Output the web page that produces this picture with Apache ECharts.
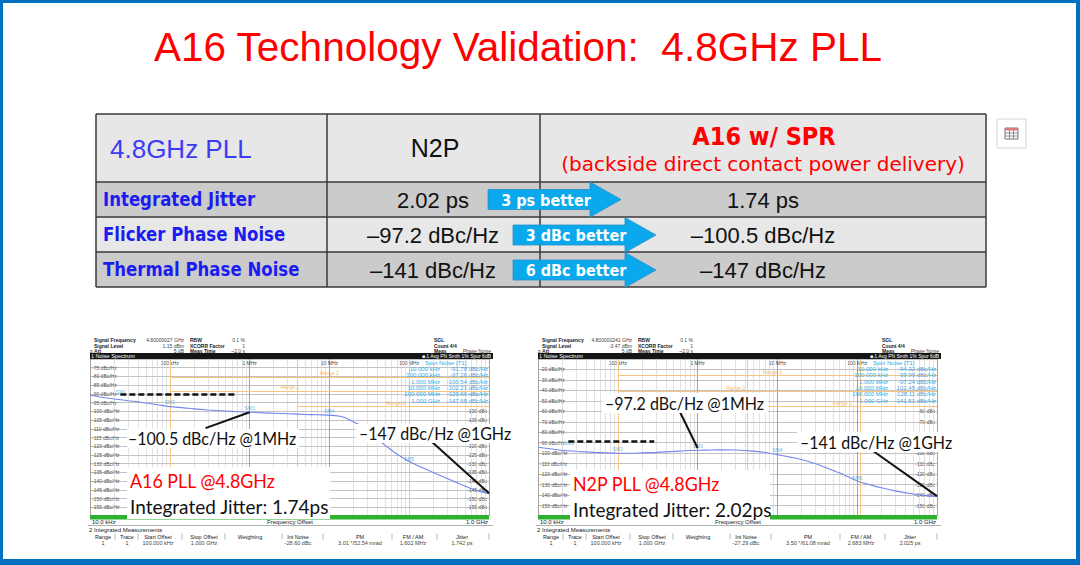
<!DOCTYPE html>
<html>
<head>
<meta charset="utf-8">
<script src="https://cdn.jsdelivr.net/npm/echarts@6/dist/echarts.min.js"></script>
<style>
html, body { margin: 0; padding: 0; background: #fff; }
#main { width: 1080px; height: 565px; }
</style>
</head>
<body>
<div id="main"></div>
<script>
// ---- data ----
var tableRows = ['Integrated Jitter', 'Flicker Phase Noise', 'Thermal Phase Noise'];
var n2pValues = ['2.02 ps', '\u201397.2 dBc/Hz', '\u2013141 dBc/Hz'];
var a16Values = ['1.74 ps', '\u2013100.5 dBc/Hz', '\u2013147 dBc/Hz'];
var gains = ['3 ps better', '3 dBc better', '6 dBc better'];

// phase noise traces, offset frequency (Hz) -> dBc/Hz
var freqA16 = [1e4, 1.5e4, 2e4, 3e4, 4e4, 5e4, 7e4, 1e5, 1.5e5, 2e5, 3e5, 5e5, 7e5, 1e6, 1.5e6, 2e6, 3e6, 5e6, 7e6,
    1e7, 1.3e7, 1.6e7, 2e7, 2.5e7, 3e7, 4e7, 5e7, 7e7, 1e8, 1.5e8, 2e8, 3e8, 4e8, 5e8, 7e8, 1e9];
var pnA16 = [-90.8, -92.2, -92.9, -93.9, -94.6, -95.2, -96.2, -97.3, -98.0, -98.6, -99.2, -99.8, -100.2, -100.5, -100.9, -101.1, -101.4, -101.8, -102.0,
    -102.2, -102.7, -103.8, -106.0, -108.5, -111.0, -116.0, -119.5, -124.5, -128.7, -132.5, -135.0, -138.5, -141.0, -142.8, -145.3, -147.2];
var freqN2P = [1e4, 1.5e4, 2e4, 3e4, 5e4, 7e4, 1e5, 1.5e5, 2e5, 3e5, 5e5, 7e5, 1e6, 1.5e6, 2e6, 3e6, 5e6, 7e6,
    1e7, 1.5e7, 2e7, 3e7, 5e7, 7e7, 1e8, 1.5e8, 2e8, 3e8, 5e8, 7e8, 1e9];
var pnN2P = [-94.3, -96.0, -97.2, -98.2, -99.2, -99.7, -100.0, -100.0, -99.7, -99.2, -98.3, -97.6, -97.2, -96.9, -96.8, -97.0, -98.0, -99.3,
    -101.4, -104.0, -106.0, -110.0, -116.5, -121.0, -126.5, -130.5, -133.0, -136.0, -139.0, -140.3, -141.3];

// spot noise markers
var spotFreq = [1e4, 1e5, 1e6, 1e7, 1e8, 1e9];
var spotFreqText = ['10.000 kHz', '100.000 kHz', '1.000 MHz', '10.000 MHz', '100.000 MHz', '1.000 GHz'];
var spotA16 = [-91.78, -97.26, -100.54, -102.21, -129.66, -147.68];
var spotN2P = [-94.32, -99.99, -97.24, -101.45, -128.11, -141.51];

// analyzer annotations (data coords)
var dashA16 = [[2.4e4, -90], [6.9e5, -90]];
var dashN2P = [[2.4e4, -89], [2.86e5, -89]];
var pointerA16 = [[[2.8e5, -109.6], [1e6, -100.5]], [[1.7e8, -115.3], [1e9, -147]]];
var pointerN2P = [[[5.7e5, -57], [1e6, -95]], [[1.4e8, -95], [1e9, -141]]];
var rangeEdgesA16 = [1e5, 4e6, 1e8];
var rangeEdgesN2P = [1e5, 4.2e6, 1.1e8];
// name, from, to, level, label freq
var rangesA16 = [['Range 1', 1e5, 1e9, -80.3, 1e7], ['Range 2', 1e5, 1e9, -88.3, 3.2e6], ['Range 3', 4e6, 1e9, -97, 6.8e7]];
var rangesN2P = [['Range 1', 1e5, 1e9, -25.3, 8.7e6], ['Range 2', 1e5, 1e9, -40.6, 3e6], ['Range 3', 4.2e6, 1e9, -55, 6.5e7]];

var xTickText = ['', '100 kHz', '1 MHz', '10 MHz', '100 MHz', ''];
var headerA16 = ['4.80000027 GHz', '1.15 dBm', '5 dB', '0.1 %', '1', '~2.0 s'];
var headerN2P = ['4.800000241 GHz', '-3.47 dBm', '5 dB', '0.1 %', '1', '~2.0 s'];
var intCols = ['Range', 'Trace', 'Start Offset', 'Stop Offset', 'Weighting', 'Int Noise', 'PM', 'FM / AM', 'Jitter'];
var intA16 = ['1', '1', '100.000 kHz', '1.000 GHz', '', '-28.60 dBc', '3.01 \u00b0/52.54 mrad', '1.602 MHz', '1.742 ps'];
var intN2P = ['1', '1', '100.000 kHz', '1.000 GHz', '', '-27.29 dBc', '3.50 \u00b0/61.08 mrad', '2.683 MHz', '2.025 ps'];

// ---- drawing ----
var ARIAL = '"Liberation Sans", Arial, sans-serif';
var TAHOMA = '"DejaVu Sans Condensed", "DejaVu Sans", sans-serif';
var VERDANA = '"DejaVu Sans", sans-serif';
var CALIBRI = 'Lato, "Open Sans", sans-serif';

var g = [];
function txt(x, y, s, size, family, weight, fill, align, z, sx) {
    g.push({type: 'text', x: x, y: y, z: z || 10, silent: true, scaleX: sx || 1,
        style: {text: s, fontSize: size, fontFamily: family, fontWeight: weight || 'normal',
            fill: fill, textAlign: align || 'left', textVerticalAlign: 'middle'}});
}
function box(x, y, w, h, fill, stroke, lw, z) {
    g.push({type: 'rect', z: z || 1, silent: true, shape: {x: x, y: y, width: w, height: h},
        style: {fill: fill || 'none', stroke: stroke || null, lineWidth: lw || 0}});
}
function seg(x1, y1, x2, y2, stroke, lw, z) {
    g.push({type: 'line', z: z || 2, silent: true, shape: {x1: x1, y1: y1, x2: x2, y2: y2},
        style: {stroke: stroke, lineWidth: lw}});
}

// slide frame
box(0, 0, 1080, 3, '#0070c0');
box(0, 0, 3, 565, '#0070c0');
box(1076, 0, 4, 565, '#0070c0');
box(0, 559, 1080, 6, '#0070c0');

// title
txt(518, 47, 'A16 Technology Validation:  4.8GHz PLL', 40.5, ARIAL, 'normal', '#ff0000', 'center');

// table
var rowY = [182, 217, 252];
var rowFill = ['#cbcbcb', '#e7e7e7', '#cbcbcb'];
box(96, 114, 890, 68, '#e7e7e7');
rowY.forEach(function (y, i) { box(96, y, 890, 35, rowFill[i]); });
[114, 182, 217, 252, 287].forEach(function (y) { seg(96, y, 986, y, '#3a3a3a', 1.5, 3); });
[96, 327, 540, 986].forEach(function (x) { seg(x, 114, x, 287, '#3a3a3a', 1.5, 3); });
txt(110, 149, '4.8GHz PLL', 26, ARIAL, 'normal', '#3c3cf5', 'left');
txt(435, 148, 'N2P', 25, ARIAL, 'normal', '#111', 'center');
txt(764, 136, 'A16 w/ SPR', 25, TAHOMA, 'bold', '#ff0000', 'center');
txt(763, 164, '(backside direct contact power delivery)', 20, VERDANA, 'normal', '#ff0000', 'center');
tableRows.forEach(function (s, i) {
    var cy = rowY[i] + 17.5;
    txt(103, cy, s, 19, TAHOMA, 'bold', '#1c1cf0', 'left', 10, 0.97);
    txt(433, cy + 0.5, n2pValues[i], 22, ARIAL, 'normal', '#111', 'center');
    txt(763, cy + 0.5, a16Values[i], 22, ARIAL, 'normal', '#111', 'center');
});
// "better" arrows
var arrows = [{x0: 488, xb: 590, tip: 621, cy: 199.5, text: 546}, {x0: 513, xb: 625, tip: 656, cy: 235, text: 576}, {x0: 513, xb: 625, tip: 656, cy: 270, text: 576}];
arrows.forEach(function (a, i) {
    g.push({type: 'polygon', z: 5, silent: true,
        shape: {points: [[a.x0, a.cy - 10], [a.xb, a.cy - 10], [a.xb, a.cy - 17.5], [a.tip, a.cy], [a.xb, a.cy + 17.5], [a.xb, a.cy + 10], [a.x0, a.cy + 10]]},
        style: {fill: '#0aa8ec', stroke: '#2a8fc8', lineWidth: 0.8}});
    txt(a.text, a.cy + 0.5, gains[i], 16, TAHOMA, 'bold', '#fff', 'center', 6);
});
// small table icon
box(997, 119, 29, 29, '#fff', '#d6d6d6', 1);
box(1005, 128, 13, 11, 'none', '#777', 1, 2);
box(1005, 128, 13, 2.5, '#e07a7a', null, 0, 2);
seg(1005, 133, 1018, 133, '#777', 0.8);
seg(1005, 136, 1018, 136, '#777', 0.8);
seg(1009.5, 130, 1009.5, 139, '#777', 0.8);
seg(1013.5, 130, 1013.5, 139, '#777', 0.8);

// ---- phase noise plots ----
var plots = [
    {left: 90, freq: freqA16, pn: pnA16, spot: spotA16, head: headerA16, integ: intA16, dash: dashA16, pointer: pointerA16,
        edges: rangeEdgesA16, ranges: rangesA16, yMin: -160, yMax: -70, step: 5, rightMax: -100, rightHide: [-110, -115]},
    {left: 538, freq: freqN2P, pn: pnN2P, spot: spotN2P, head: headerN2P, integ: intN2P, dash: dashN2P, pointer: pointerN2P,
        edges: rangeEdgesN2P, ranges: rangesN2P, yMin: -160, yMax: -10, step: 10, rightMax: -60, rightHide: [-80, -90]}
];
var PW = 399, PTOP = 359, PH = 157;
var minorFreqs = [];
for (var d = 1e4; d < 1e9; d *= 10) {
    for (var m = 2; m <= 9; m++) minorFreqs.push({xAxis: m * d});
}

var grids = [], xAxes = [], yAxes = [], series = [];
plots.forEach(function (p, i) {
    var L = p.left;
    grids.push({left: L, top: PTOP, width: PW, height: PH, show: false});
    xAxes.push({type: 'log', gridIndex: i, min: 1e4, max: 1e9, logBase: 10, position: 'top',
        axisLine: {show: false}, axisTick: {show: false},
        axisLabel: {inside: true, fontSize: 5, color: '#444', margin: 1, fontFamily: ARIAL,
            formatter: function (v) { return xTickText[Math.round(Math.log10(v)) - 4] || ''; }},
        splitLine: {show: true, lineStyle: {color: '#8c8c8c', width: 0.8}}});
    yAxes.push({type: 'value', gridIndex: i, min: p.yMin, max: p.yMax, interval: p.step, position: 'left',
        axisLine: {show: false}, axisTick: {show: false},
        axisLabel: {inside: true, fontSize: 5, color: '#555', margin: 2, fontFamily: ARIAL,
            formatter: function (v) { return (v > p.yMin && v < p.yMax) ? v + ' dBc/Hz' : ''; }},
        splitLine: {lineStyle: {color: '#b4b4b4', width: 0.8}}});
    yAxes.push({type: 'value', gridIndex: i, min: p.yMin, max: p.yMax, interval: p.step, position: 'right',
        axisLine: {show: false}, axisTick: {show: false},
        axisLabel: {inside: true, fontSize: 5, color: '#555', margin: 2, fontFamily: ARIAL,
            formatter: function (v) {
                return (v > p.yMin && v <= p.rightMax && p.rightHide.indexOf(v) < 0) ? v + ' dBc' : '';
            }},
        splitLine: {show: false}});

    var pts = p.freq.map(function (f, k) { return [f, p.pn[k]]; });
    var xi = i, yi = 2 * i;
    // minor log grid
    series.push({type: 'line', xAxisIndex: xi, yAxisIndex: yi, data: pts, silent: true, z: 1,
        showSymbol: false, lineStyle: {opacity: 0},
        markLine: {silent: true, symbol: ['none', 'none'], label: {show: false}, animation: false,
            lineStyle: {color: '#cfcfcf', width: 0.6, type: 'solid'}, data: minorFreqs}});
    // analyzer range lines
    var rl = p.edges.map(function (f) { return {xAxis: f}; });
    p.ranges.forEach(function (r) { rl.push([{coord: [r[1], r[3]]}, {coord: [r[2], r[3]]}]); });
    series.push({type: 'line', xAxisIndex: xi, yAxisIndex: yi, data: pts, silent: true, z: 2,
        showSymbol: false, lineStyle: {opacity: 0},
        markLine: {silent: true, symbol: ['none', 'none'], label: {show: false}, animation: false,
            lineStyle: {color: '#f8c67e', width: 1, type: 'solid'}, data: rl}});
    series.push({type: 'scatter', xAxisIndex: xi, yAxisIndex: yi, symbolSize: 0, silent: true, z: 3,
        data: p.ranges.map(function (r) { return [r[4], r[3], r[0]]; }),
        label: {show: true, position: 'top', distance: 1, fontSize: 5, color: '#f0a540', fontFamily: ARIAL,
            formatter: function (q) { return q.data[2]; }}});
    // the trace
    series.push({type: 'line', xAxisIndex: xi, yAxisIndex: yi, data: pts, z: 5, showSymbol: false, smooth: 0.3,
        lineStyle: {color: '#7286f0', width: 1.1}});
    // spot markers (SM1..SM5 labelled, last one hidden behind the axis labels)
    series.push({type: 'scatter', xAxisIndex: xi, yAxisIndex: yi, symbolSize: 0, silent: true, z: 6,
        data: spotFreq.slice(0, 5).map(function (f, k) {
            return k === 0 ? {value: [f, p.spot[k]], label: {offset: [31, 0]}} : [f, p.spot[k]];
        }),
        label: {show: true, position: 'top', distance: 2, fontSize: 5, color: '#3aa6e0', fontFamily: ARIAL,
            formatter: function (q) { return 'SM' + (q.dataIndex + 1); }}});
    // black dashed reference line
    series.push({type: 'lines', coordinateSystem: 'cartesian2d', xAxisIndex: xi, yAxisIndex: yi, silent: true, z: 7,
        data: [{coords: p.dash}], lineStyle: {color: '#111', width: 2.5, type: [6, 3], opacity: 1}});
    // pointer lines
    series.push({type: 'lines', coordinateSystem: 'cartesian2d', xAxisIndex: xi, yAxisIndex: yi, silent: true, z: 7,
        data: p.pointer.map(function (c) { return {coords: c}; }), lineStyle: {color: '#111', width: 2, opacity: 1}});

    // analyzer header
    var hy = [340, 345.5, 351];
    var lab1 = ['Signal Frequency', 'Signal Level', '\u2261 Att'];
    var lab2 = ['RBW', 'XCORR Factor', 'Meas Time'];
    var lab3 = ['SGL', 'Count 4/4', 'Meas'];
    for (var k = 0; k < 3; k++) {
        txt(L + (k == 2 ? 0 : 4), hy[k], lab1[k], 5, ARIAL, 'bold', '#222', 'left');
        txt(L + 94, hy[k], p.head[k], 5, ARIAL, 'normal', '#444', 'right');
        txt(L + 100, hy[k], lab2[k], 5, ARIAL, 'bold', '#222', 'left');
        txt(L + 155, hy[k], p.head[3 + k], 5, ARIAL, 'normal', '#444', 'right');
        txt(L + 344, hy[k], lab3[k], 5, ARIAL, 'bold', '#222', 'left');
    }
    txt(L + 401, hy[2], 'Phase Noise', 5, ARIAL, 'normal', '#444', 'right');
    box(L, 353, 403, 6, '#151515');
    txt(L + 1, 356, '1 Noise Spectrum', 5.5, ARIAL, 'normal', '#fff', 'left', 12);
    txt(L + 401, 356, '\u25a0 1 Avg PN Smth 1% Spur 6dB', 5, ARIAL, 'normal', '#fff', 'right', 12);

    // spot noise table
    txt(L + 335, 362.5, 'Spot Noise [T1]', 6, ARIAL, 'normal', '#3aa6e0', 'left', 12);
    spotFreqText.forEach(function (s, k) {
        var yy = 369 + 6.3 * k;
        txt(L + 350, yy, s, 6, ARIAL, 'normal', '#3aa6e0', 'right', 12);
        txt(L + 398, yy, p.spot[k].toFixed(2) + ' dBc/Hz', 6, ARIAL, 'normal', '#3aa6e0', 'right', 12);
    });

    // frequency bar + integrated measurements
    box(L, 515, PW, 4.5, '#2fb02f', null, 0, 20);
    txt(L + 2, 522, '10.0 kHz', 6, ARIAL, 'normal', '#222', 'left');
    txt(L + 200, 522, 'Frequency Offset', 6, ARIAL, 'normal', '#222', 'center');
    txt(L + 398, 522, '1.0 GHz', 6, ARIAL, 'normal', '#222', 'right');
    seg(L - 2, 525.5, L + 403, 525.5, '#9a9a9a', 0.8);
    txt(L - 1, 530, '2 Integrated Measurements', 6, ARIAL, 'normal', '#222', 'left');
    var colX = [13, 37, 68, 114, 160, 208, 270, 323, 372];
    var sepX = [25, 48, 92, 135, 192, 233, 302, 347, 399];
    intCols.forEach(function (c, k) {
        txt(L + colX[k], 536.5, c, 5.5, ARIAL, 'normal', '#222', 'center');
        txt(L + colX[k], 543, p.integ[k], 5.5, ARIAL, 'normal', '#444', 'center');
        seg(L + sepX[k], 533.5, L + sepX[k], 539.5, '#888', 0.6);
    });
});

// big annotation boxes
box(127, 429, 172, 19, '#fff', null, 0, 100);
txt(128, 438.5, '\u2013100.5 dBc/Hz @1MHz', 18, CALIBRI, 'normal', '#111', 'left', 101, 0.89);
box(356, 424, 158, 19, '#fff', null, 0, 100);
txt(359, 433.5, '\u2013147 dBc/Hz @1GHz', 18, CALIBRI, 'normal', '#111', 'left', 101, 0.89);
box(127, 467, 203, 52, '#fff', null, 0, 100);
txt(130, 481, 'A16 PLL @4.8GHz', 19, CALIBRI, 'normal', '#ff0000', 'left', 101, 0.94);
txt(130, 506, 'Integrated Jitter: 1.74ps', 19, CALIBRI, 'normal', '#111', 'left', 101);

box(602, 393, 166, 20, '#fff', null, 0, 100);
txt(605, 403, '\u201397.2 dBc/Hz @1MHz', 18, CALIBRI, 'normal', '#111', 'left', 101, 0.89);
box(797, 432, 158, 20, '#fff', null, 0, 100);
txt(800, 442, '\u2013141 dBc/Hz @1GHz', 18, CALIBRI, 'normal', '#111', 'left', 101, 0.89);
box(570, 470, 200, 50, '#fff', null, 0, 100);
txt(573, 484, 'N2P PLL @4.8GHz', 19, CALIBRI, 'normal', '#ff0000', 'left', 101, 0.94);
txt(573, 509, 'Integrated Jitter: 2.02ps', 19, CALIBRI, 'normal', '#111', 'left', 101);

var chart = echarts.init(document.getElementById('main'), null, {renderer: 'svg'});
chart.setOption({
    animation: false,
    backgroundColor: '#fff',
    grid: grids,
    xAxis: xAxes,
    yAxis: yAxes,
    series: series,
    graphic: {elements: g}
});
</script>
</body>
</html>
